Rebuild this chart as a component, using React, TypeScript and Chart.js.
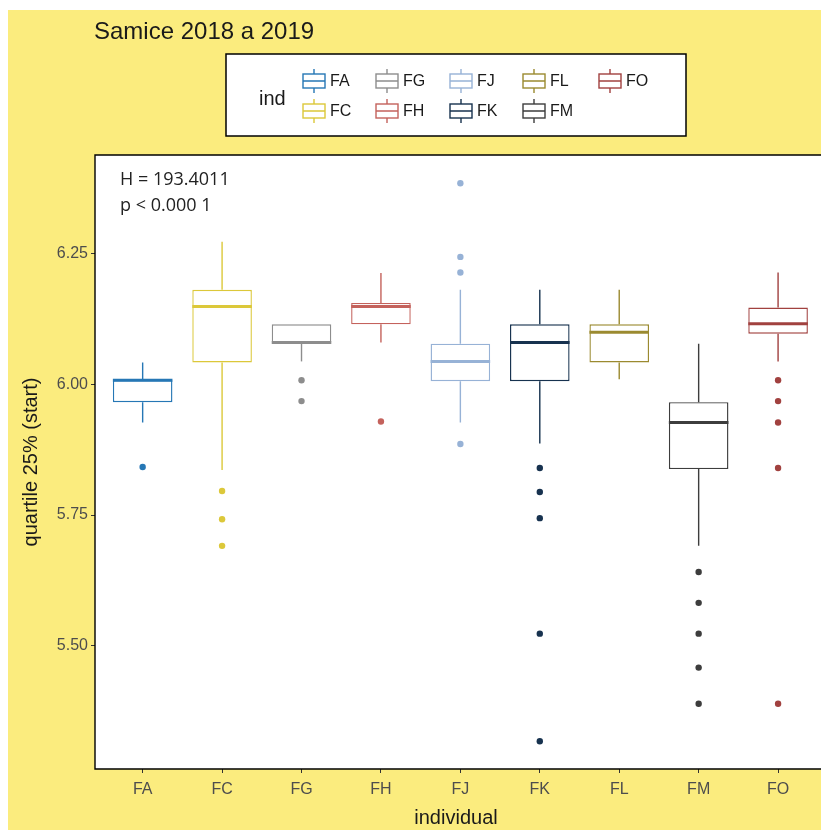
import React, { useEffect, useRef } from 'react';
import { Chart, registerables } from 'chart.js';
Chart.register(...registerables);

const categories = ['FA', 'FC', 'FG', 'FH', 'FJ', 'FK', 'FL', 'FM', 'FO'];
const colors = ['#2677b5', '#dcc83a', '#8d8d8d', '#c4625c', '#97b2d6', '#17324f', '#9b8a30', '#3d3d3d', '#a1413f'];
const whiskerLow = [5.927, 5.836, 6.044, 6.080, 5.927, 5.887, 6.010, 5.691, 6.044];
const q1 = [5.966, 6.042, 6.080, 6.115, 6.006, 6.006, 6.042, 5.838, 6.097];
const median = [6.008, 6.149, 6.080, 6.149, 6.044, 6.080, 6.100, 5.927, 6.116];
const q3 = [6.008, 6.181, 6.115, 6.156, 6.078, 6.115, 6.115, 5.966, 6.147];
const whiskerHigh = [6.042, 6.273, 6.115, 6.213, 6.181, 6.181, 6.181, 6.078, 6.214];
const outliers = [
  [5.842],
  [5.796, 5.742, 5.691],
  [6.008, 5.968],
  [5.929],
  [6.385, 6.244, 6.214, 5.886],
  [5.840, 5.794, 5.744, 5.523, 5.317],
  [],
  [5.641, 5.582, 5.523, 5.458, 5.389],
  [6.008, 5.968, 5.927, 5.840, 5.389],
];
const yTicks = [5.5, 5.75, 6.0, 6.25];
const legendRows = [
  ['FA', 'FG', 'FJ', 'FL', 'FO'],
  ['FC', 'FH', 'FK', 'FM'],
];
const legendTitle = 'ind';
const titleText = 'Samice 2018 a 2019';
const statLines = ['H = 193.4011', 'p < 0.000 1'];
const xTitle = 'individual';
const yTitle = 'quartile 25% (start)';

const FONT = '"Liberation Sans", Arial, sans-serif';
const BG = '#fbec7e';

const decorPlugin = {
  id: 'decor',
  beforeDraw(chart: any) {
    const { ctx, chartArea, width, height } = chart;
    ctx.save();
    ctx.fillStyle = '#ffffff';
    ctx.fillRect(0, 0, width, height);
    ctx.fillStyle = BG;
    ctx.fillRect(8, 10, width - 8, height - 10);
    ctx.fillStyle = '#ffffff';
    ctx.fillRect(chartArea.left, chartArea.top, width - chartArea.left, chartArea.bottom - chartArea.top);
    ctx.restore();
  },
  afterDatasetsDraw(chart: any) {
    const { ctx } = chart;
    const yScale = chart.scales.y;
    const meta = chart.getDatasetMeta(0);
    ctx.save();
    meta.data.forEach((bar: any, i: number) => {
      const x = bar.x;
      const half = bar.width / 2;
      ctx.strokeStyle = colors[i];
      ctx.lineWidth = 1.4;
      ctx.beginPath();
      ctx.moveTo(x, yScale.getPixelForValue(q3[i]));
      ctx.lineTo(x, yScale.getPixelForValue(whiskerHigh[i]));
      ctx.moveTo(x, yScale.getPixelForValue(q1[i]));
      ctx.lineTo(x, yScale.getPixelForValue(whiskerLow[i]));
      ctx.stroke();
      ctx.lineWidth = 3;
      ctx.beginPath();
      const my = yScale.getPixelForValue(median[i]);
      ctx.moveTo(x - half, my);
      ctx.lineTo(x + half, my);
      ctx.stroke();
    });
    ctx.restore();
  },
  afterDraw(chart: any) {
    const { ctx, chartArea, width } = chart;
    ctx.save();
    // panel border (right side is cut off by the image edge)
    ctx.strokeStyle = '#000';
    ctx.lineWidth = 1.4;
    ctx.beginPath();
    ctx.moveTo(width, chartArea.top);
    ctx.lineTo(chartArea.left, chartArea.top);
    ctx.lineTo(chartArea.left, chartArea.bottom);
    ctx.lineTo(width, chartArea.bottom);
    ctx.stroke();

    // title
    ctx.fillStyle = '#1a1a1a';
    ctx.font = `24px ${FONT}`;
    ctx.textBaseline = 'middle';
    ctx.textAlign = 'left';
    ctx.fillText(titleText, 94, 32);

    // stats
    ctx.font = `18px "Open Sans", "Noto Sans", sans-serif`;
    ctx.fillStyle = '#222';
    ctx.fillText(statLines[0], 120, 180);
    ctx.fillText(statLines[1], 120, 206);

    // legend
    const lx = 226, ly = 54, lw = 460, lh = 82;
    ctx.fillStyle = '#fff';
    ctx.fillRect(lx, ly, lw, lh);
    ctx.strokeStyle = '#000';
    ctx.lineWidth = 1.5;
    ctx.strokeRect(lx, ly, lw, lh);
    ctx.fillStyle = '#1a1a1a';
    ctx.font = `20px ${FONT}`;
    ctx.fillText(legendTitle, 259, 99);
    const colX = [314, 387, 461, 534, 610];
    const rowY = [81, 111];
    ctx.font = `16px ${FONT}`;
    legendRows.forEach((row, r) => {
      row.forEach((name, c) => {
        const idx = categories.indexOf(name);
        const cx = colX[c];
        const cy = rowY[r];
        ctx.strokeStyle = colors[idx];
        ctx.lineWidth = 1.4;
        ctx.strokeRect(cx - 11, cy - 7, 22, 14);
        ctx.beginPath();
        ctx.moveTo(cx, cy - 7);
        ctx.lineTo(cx, cy - 12);
        ctx.moveTo(cx, cy + 7);
        ctx.lineTo(cx, cy + 12);
        ctx.moveTo(cx - 11, cy);
        ctx.lineTo(cx + 11, cy);
        ctx.stroke();
        ctx.fillStyle = '#1a1a1a';
        ctx.fillText(name, cx + 16, cy + 1);
      });
    });
    ctx.restore();
  },
};

export default function App() {
  const ref = useRef<HTMLCanvasElement | null>(null);
  useEffect(() => {
    if (!ref.current) return;
    const barData = categories.map((_, i) => ({ x: i, y: [q1[i], q3[i]] }));
    const outPts: any[] = [];
    const outCols: string[] = [];
    outliers.forEach((arr, i) => {
      arr.forEach((v) => {
        outPts.push({ x: i, y: v });
        outCols.push(colors[i]);
      });
    });
    const chart = new Chart(ref.current, {
      type: 'bar',
      data: {
        datasets: [
          {
            type: 'bar',
            data: barData as any,
            backgroundColor: '#ffffff',
            borderColor: colors,
            borderWidth: 1.4,
            borderSkipped: false,
            barPercentage: 0.75,
            categoryPercentage: 1,
            grouped: false,
          } as any,
          {
            type: 'scatter',
            data: outPts,
            pointBackgroundColor: outCols,
            pointBorderColor: outCols,
            pointBorderWidth: 0,
            pointRadius: 3.2,
            showLine: false,
          } as any,
        ],
      },
      options: {
        animation: false,
        responsive: false,
        layout: { padding: { top: 155, left: 0, right: 0, bottom: 0 } },
        plugins: { legend: { display: false }, tooltip: { enabled: false } },
        scales: {
          x: {
            type: 'linear',
            offset: false,
            min: -0.6,
            max: 8.49,
            afterBuildTicks: (s: any) => {
              s.ticks = categories.map((_, i) => ({ value: i }));
            },
            afterFit: (s: any) => {
              s.height = 61;
            },
            ticks: {
              autoSkip: false,
              maxRotation: 0,
              padding: 7,
              color: '#4d4d4d',
              font: { family: FONT, size: 16 },
              callback: (v: any) => categories[Math.round(Number(v))],
            },
            grid: { offset: false, drawOnChartArea: false, drawTicks: true, tickLength: 4, color: '#333', lineWidth: 1 },
            border: { display: false },
            title: { display: true, text: xTitle, color: '#1a1a1a', font: { family: FONT, size: 20 }, padding: { top: 0, bottom: 0 } },
          },
          y: {
            type: 'linear',
            min: 5.264,
            max: 6.439,
            afterBuildTicks: (s: any) => {
              s.ticks = yTicks.map((v) => ({ value: v }));
            },
            afterFit: (s: any) => {
              s.width = 95;
            },
            ticks: {
              padding: 3,
              color: '#4d4d4d',
              font: { family: FONT, size: 16 },
              callback: (v: any) => Number(v).toFixed(2),
            },
            grid: { drawOnChartArea: false, drawTicks: true, tickLength: 4, color: '#333', lineWidth: 1 },
            border: { display: false },
            title: { display: true, text: yTitle, color: '#1a1a1a', font: { family: FONT, size: 20 }, padding: { top: 19, bottom: 0 } },
          },
        },
      },
      plugins: [decorPlugin],
    } as any);
    return () => chart.destroy();
  }, []);
  return (
    <canvas
      ref={ref}
      width={821}
      height={830}
      style={{ position: 'absolute', left: 0, top: 0, width: 821, height: 830 }}
    />
  );
}
